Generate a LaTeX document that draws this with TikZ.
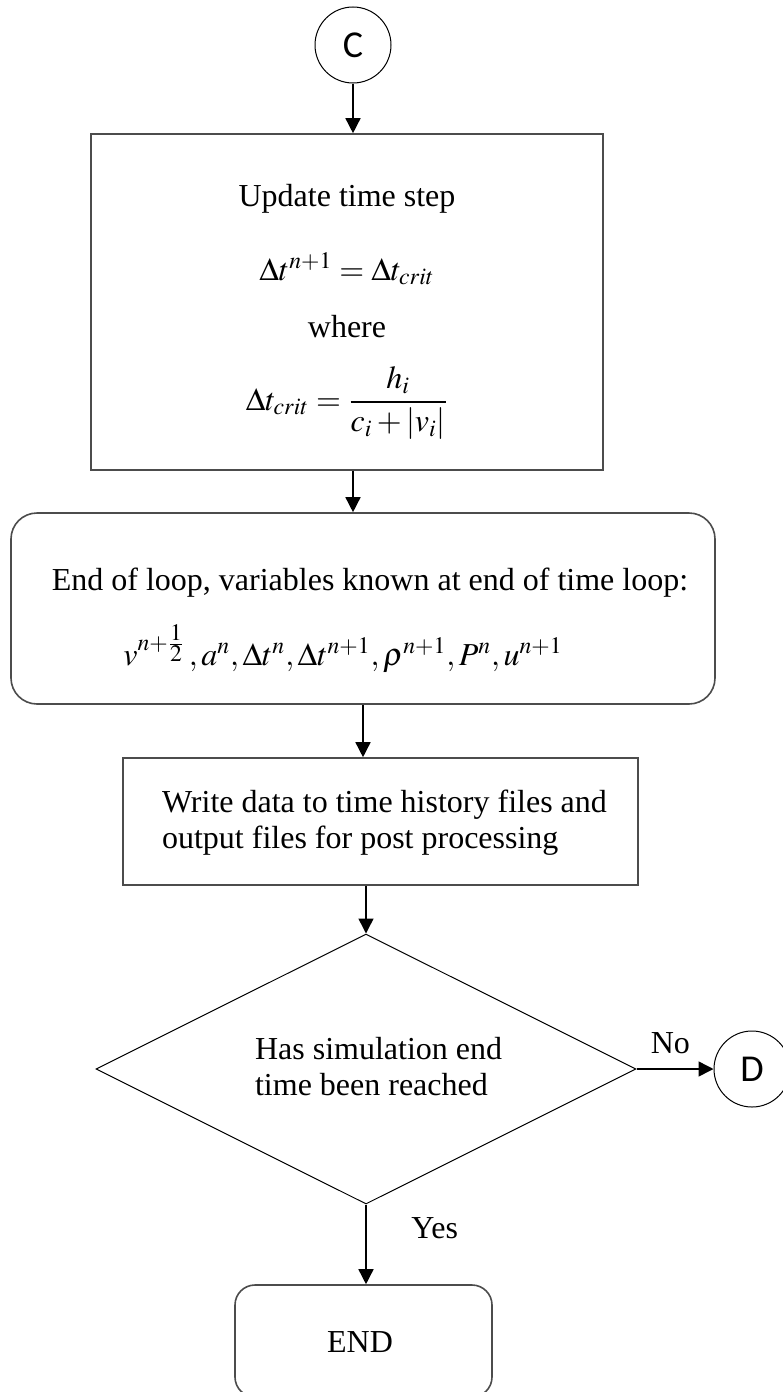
\documentclass[tikz,border=0pt]{standalone}
\usepackage{amsmath}
\usepackage{mathptmx}
\usepackage{fontspec}
\setmainfont{Liberation Serif}
\newfontfamily\connfont{Carlito}
\usetikzlibrary{arrows.meta,shapes.geometric}

\begin{document}
\begin{tikzpicture}[x=0.5pt,y=-0.5pt,
  every node/.style={font=\fontsize{16}{18}\selectfont},
  conn/.style={draw, circle, line width=0.5pt, minimum size=38pt, inner sep=0pt,
    font=\connfont\fontsize{19}{22}\selectfont},
  procbox/.style={draw=black!70, line width=0.8pt, rectangle, inner sep=0pt},
  termbox/.style={procbox, rounded corners=13pt},
  decbox/.style={draw, line width=0.5pt, diamond, inner sep=0pt},
  flow/.style={-{Triangle[length=7.5pt,width=7.5pt]}, line width=0.75pt}]
  \useasboundingbox (0,0) rectangle (782,1392);

  % connectors and boxes
  \node[conn] (C) at (353,45) {C};
  \node[procbox, minimum width=256pt, minimum height=168pt] (upd) at (347,302) {};
  \node[termbox, minimum width=352pt, minimum height=95.5pt] (loop) at (363,608.5) {};
  \node[procbox, minimum width=257.5pt, minimum height=63.5pt] (wrt) at (380.5,821.5) {};
  \node[decbox, minimum width=270pt, minimum height=135pt] (dec) at (366,1069) {};
  \node[conn] (D) at (752,1069) {D};
  \node[termbox, rounded corners=10pt, minimum width=128.5pt, minimum height=56pt] (end) at (363.5,1341) {};

  % texts
  \node[anchor=base] at (347,206) {Update time step};
  \node[anchor=base] at (347,280) {$\Delta t^{n+1}=\Delta t_{crit}$};
  \node[anchor=base] at (347,337) {where};
  \node[anchor=base] at (347,410) {$\Delta t_{crit}=\dfrac{h_i}{c_i+\left|v_i\right|}$};
  \node[anchor=base] at (370,590) {End of loop, variables known at end of time loop:};
  \node[anchor=base] at (343,665)
    {$v^{n+\frac{\scriptstyle 1}{\scriptstyle 2}}\,,a^n,\Delta t^n,\Delta t^{n+1},\rho^{n+1},P^n,u^{n+1}$};
  \node[anchor=base west, align=left] at (155,848)
    {Write data to time history files and\\output files for post processing};
  \node[anchor=base west, align=left] at (248,1095)
    {Has simulation end\\time been reached};
  \node[anchor=base] at (360,1352) {END};

  % flow
  \draw[flow] (C) -- (C |- upd.north);
  \draw[flow] (C |- upd.south) -- (C |- loop.north);
  \draw[flow] (loop.south) -- (loop.south |- wrt.north);
  \draw[flow] (dec |- wrt.south) -- (dec.north);
  \draw[flow] (dec.east) -- (D) node[pos=0.44, above=4pt] {No};
  \draw[flow] (dec.south) -- (dec.south |- end.north) node[pos=0.3, right=19pt] {Yes};
\end{tikzpicture}
\end{document}
